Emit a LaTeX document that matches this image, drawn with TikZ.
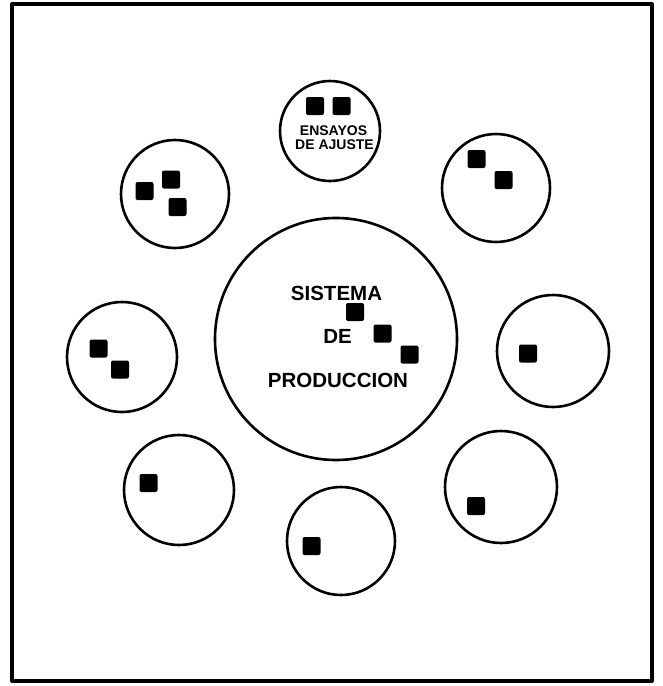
\documentclass[tikz,border=0pt]{standalone}
\usepackage{fontspec}
\setmainfont{Liberation Sans}
\usetikzlibrary{positioning}

\begin{document}
\begin{tikzpicture}[
  x=1pt, y=-1pt,
  ring/.style={circle, draw=black, line width=2.6pt, inner sep=0pt},
  sq/.style={rectangle, fill=black, minimum size=18pt, inner sep=0pt, rounded corners=2pt},
  bigtxt/.style={font=\bfseries\fontsize{20.5}{22}\selectfont, inner sep=0pt, anchor=base},
  smalltxt/.style={font=\bfseries\fontsize{14}{15}\selectfont, inner sep=0pt, anchor=base}
]
\useasboundingbox (0,0) rectangle (663,686);
\draw[line width=3.2pt, line join=round] (12,4) rectangle (652,681);

% central circle
\node[ring, minimum size=242pt] (cprod) at (336,339) {};
\node[bigtxt] (tsis) at (336.5,300) {SISTEMA};
\node[bigtxt] (tde) at (337.5,343) {DE};
\node[bigtxt] (tprod) at (338,387) {PRODUCCION};
\node[sq] (p1) at (355,312) {};
\node[sq] (p2) at (382.5,333.5) {};
\node[sq] (p3) at (409.5,354.5) {};

% ring of small circles
\node[ring, minimum size=100pt] (cens) at (330,131) {};
\node[smalltxt] (tens) at (333.5,135) {ENSAYOS};
\node[smalltxt] (taju) at (334.5,149) {DE AJUSTE};
\node[sq] (e1) at (315,106) {};
\node[sq] (e2) at (341.5,106) {};

\node[ring, minimum size=108pt] (ctl) at (175,194) {};
\node[sq] (a1) at (144.5,191) {};
\node[sq] (a2) at (171,179.5) {};
\node[sq] (a3) at (177.5,207) {};

\node[ring, minimum size=108pt] (ctr) at (496,188) {};
\node[sq] (b1) at (476.5,159) {};
\node[sq] (b2) at (503.5,180) {};

\node[ring, minimum size=110pt] (cl) at (122,357) {};
\node[sq] (c1) at (98.5,348.5) {};
\node[sq] (c2) at (120,369.5) {};

\node[ring, minimum size=112pt] (cr) at (553,351) {};
\node[sq] (d1) at (528,353.5) {};

\node[ring, minimum size=110pt] (cbl) at (179,490) {};
\node[sq] (f1) at (148.5,483) {};

\node[ring, minimum size=112pt] (cbr) at (501,487) {};
\node[sq] (g1) at (476,506) {};

\node[ring, minimum size=108pt] (cb) at (341,541) {};
\node[sq] (h1) at (311.5,546) {};

\end{tikzpicture}
\end{document}
